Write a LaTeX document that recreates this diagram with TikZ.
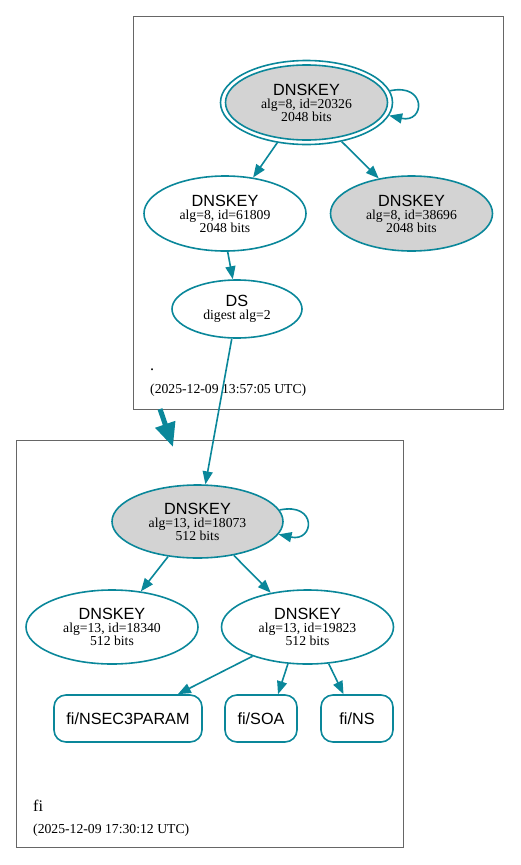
\documentclass[tikz,border=0pt]{standalone}
\usepackage{fontspec}
\setmainfont{Liberation Serif}
\setsansfont{Liberation Sans}
\usetikzlibrary{shapes.geometric,arrows.meta}
\definecolor{dnsteal}{HTML}{0A879A}
\definecolor{keygray}{HTML}{D3D3D3}
\newcommand\ttl[1]{{\sffamily\fontsize{16.2}{13}\selectfont #1}}
\tikzset{
  keynode/.style={ellipse, draw=dnsteal, line width=1.6pt, inner sep=0pt, align=center,
    font=\fontsize{13.7}{13}\selectfont, minimum width=162pt, minimum height=75pt},
  rrbox/.style={rectangle, rounded corners=12pt, draw=dnsteal, line width=1.6pt, inner sep=0pt,
    font=\sffamily\fontsize{16.2}{18}\selectfont, minimum height=47pt},
  edge/.style={draw=dnsteal, line width=1.6pt, -{Triangle[length=13pt,width=10pt]}},
  bigedge/.style={draw=dnsteal, line width=5pt, -{Triangle[length=24pt,width=20pt]}},
  cluster/.style={draw=black!60, line width=1pt},
  lbl/.style={anchor=base west, inner sep=0pt, font=\fontsize{16.2}{18}\selectfont},
  datelbl/.style={anchor=base west, inner sep=0pt, font=\fontsize{13.7}{15}\selectfont},
}
\begin{document}
\begin{tikzpicture}[x=1pt,y=-1pt]
\useasboundingbox (0,0) rectangle (520,865);
% clusters
\draw[cluster] (133,16) rectangle (503,409);
\draw[cluster] (16,440) rectangle (403,847);
% top zone
\node[keynode, fill=keygray, minimum width=162pt, minimum height=75pt] (ksk) at (306.5,102.5)
  {\ttl{DNSKEY}\\alg=8, id=20326\\2048 bits};
\node[ellipse, draw=dnsteal, line width=1.6pt, minimum width=172pt, minimum height=84pt] (kskouter) at (306.5,102.5) {};
\node[keynode] (k61809) at (225,213.5) {\ttl{DNSKEY}\\alg=8, id=61809\\2048 bits};
\node[keynode, fill=keygray] (k38696) at (411.5,213.5) {\ttl{DNSKEY}\\alg=8, id=38696\\2048 bits};
\node[keynode, minimum width=130pt, minimum height=58pt] (ds) at (237,309) {\ttl{DS}\\digest alg=2};
\node[lbl] (dot) at (150,370) {.};
\node[datelbl] (date1) at (150,393.5) {(2025-12-09 13:57:05 UTC)};
% bottom zone
\node[keynode, fill=keygray, minimum width=171pt, minimum height=73pt] (k18073) at (197.5,521.5)
  {\ttl{DNSKEY}\\alg=13, id=18073\\512 bits};
\node[keynode, minimum width=172pt, minimum height=74pt] (k18340) at (112,627) {\ttl{DNSKEY}\\alg=13, id=18340\\512 bits};
\node[keynode, minimum width=172pt, minimum height=74pt] (k19823) at (307.5,627) {\ttl{DNSKEY}\\alg=13, id=19823\\512 bits};
\node[rrbox, minimum width=148pt] (nsec) at (128,718.5) {fi/NSEC3PARAM};
\node[rrbox, minimum width=72pt] (soa) at (261,718.5) {fi/SOA};
\node[rrbox, minimum width=72pt] (ns) at (357,718.5) {fi/NS};
\node[lbl] (fi) at (33,811) {fi};
\node[datelbl] (date2) at (33,833) {(2025-12-09 17:30:12 UTC)};
% edges
\draw[edge] (kskouter.234) -- (k61809.52);
\draw[edge] (kskouter.312) -- (k38696.133);
\draw[edge] (kskouter.8) .. controls +(37,-8) and +(36,8) .. (kskouter.-9);
\draw[edge] (k61809.-86) -- (ds.98);
\draw[edge] (ds.260) -- (k18073.78);
\draw[edge] (k18073.230) -- (k18340.51);
\draw[edge] (k18073.317) -- (k19823.137);
\draw[edge] (k18073.8) .. controls +(38,-8) and +(36,8) .. (k18073.-9);
\draw[edge] (k19823.208) -- (nsec.26);
\draw[edge] (k19823.242) -- (soa.55);
\draw[edge] (k19823.300) -- (ns.119);
\coordinate (thkA) at (160,409);
\coordinate (thkB) at (173,447);
\draw[bigedge] (thkA) -- (thkB);
\end{tikzpicture}
\end{document}
